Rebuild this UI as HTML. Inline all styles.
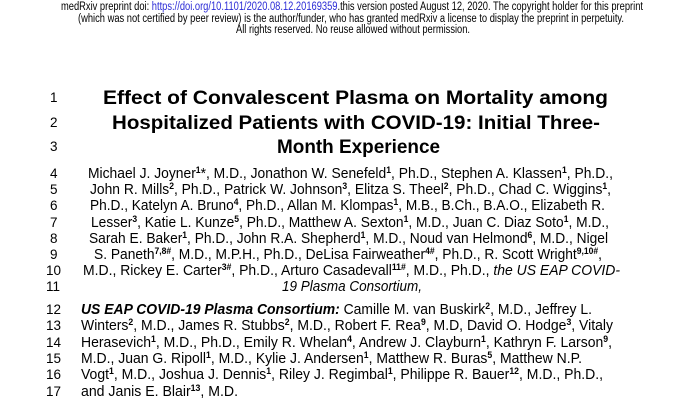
<!DOCTYPE html>
<html><head><meta charset="utf-8"><style>
html,body{margin:0;padding:0;background:#fff;width:700px;height:400px;overflow:hidden}
svg{display:block}
text{font-family:"Liberation Sans",Arial,sans-serif;fill:#000}
.n{font-size:13.5px}
.b{font-size:14.5px}
.t{font-size:19.5px;font-weight:bold}
.h{font-size:11.5px}
.s{font-size:9px;font-weight:bold}
</style></head><body>
<svg width="700" height="400" viewBox="0 0 700 400">
<text class="h" x="61" y="10" textLength="582" lengthAdjust="spacingAndGlyphs">medRxiv preprint doi: <tspan fill="#2b2bd6">https://doi.org/10.1101/2020.08.12.20169359</tspan>.this version posted August 12, 2020. The copyright holder for this preprint</text>
<text class="h" x="78" y="22" textLength="546" lengthAdjust="spacingAndGlyphs">(which was not certified by peer review) is the author/funder, who has granted medRxiv a license to display the preprint in perpetuity.</text>
<text class="h" x="236" y="33" textLength="234" lengthAdjust="spacingAndGlyphs">All rights reserved. No reuse allowed without permission.</text>

<g class="n">
<text x="50" y="102">1</text><text x="50" y="127">2</text><text x="50" y="151">3</text>
<text x="50" y="178">4</text><text x="50" y="194">5</text><text x="50" y="210">6</text><text x="50" y="227">7</text>
<text x="50" y="243">8</text><text x="50" y="259">9</text><text x="46" y="275">10</text><text x="46" y="291">11</text>
<text x="46" y="314">12</text><text x="46" y="330">13</text><text x="46" y="347">14</text><text x="46" y="363">15</text>
<text x="46" y="379">16</text><text x="46" y="396">17</text>
</g>

<text class="t" x="103" y="104" textLength="505" lengthAdjust="spacingAndGlyphs">Effect of Convalescent Plasma on Mortality among</text>
<text class="t" x="112" y="129" textLength="488" lengthAdjust="spacingAndGlyphs">Hospitalized Patients with COVID-19: Initial Three-</text>
<text class="t" x="277" y="153" textLength="163" lengthAdjust="spacingAndGlyphs">Month Experience</text>

<text class="b" x="88" y="178" textLength="525" lengthAdjust="spacingAndGlyphs">Michael J. Joyner<tspan class="s" dy="-5">1</tspan><tspan dy="5">*, M.D., Jonathon W. Senefeld</tspan><tspan class="s" dy="-5">1</tspan><tspan dy="5">, Ph.D., Stephen A. Klassen</tspan><tspan class="s" dy="-5">1</tspan><tspan dy="5">, Ph.D.,</tspan></text>
<text class="b" x="90" y="194" textLength="521" lengthAdjust="spacingAndGlyphs">John R. Mills<tspan class="s" dy="-5">2</tspan><tspan dy="5">, Ph.D., Patrick W. Johnson</tspan><tspan class="s" dy="-5">3</tspan><tspan dy="5">, Elitza S. Theel</tspan><tspan class="s" dy="-5">2</tspan><tspan dy="5">, Ph.D., Chad C. Wiggins</tspan><tspan class="s" dy="-5">1</tspan><tspan dy="5">,</tspan></text>
<text class="b" x="90" y="210" textLength="515" lengthAdjust="spacingAndGlyphs">Ph.D., Katelyn A. Bruno<tspan class="s" dy="-5">4</tspan><tspan dy="5">, Ph.D., Allan M. Klompas</tspan><tspan class="s" dy="-5">1</tspan><tspan dy="5">, M.B., B.Ch., B.A.O., Elizabeth R.</tspan></text>
<text class="b" x="91" y="227" textLength="518" lengthAdjust="spacingAndGlyphs">Lesser<tspan class="s" dy="-5">3</tspan><tspan dy="5">, Katie L. Kunze</tspan><tspan class="s" dy="-5">5</tspan><tspan dy="5">, Ph.D., Matthew A. Sexton</tspan><tspan class="s" dy="-5">1</tspan><tspan dy="5">, M.D., Juan C. Diaz Soto</tspan><tspan class="s" dy="-5">1</tspan><tspan dy="5">, M.D.,</tspan></text>
<text class="b" x="89" y="243" textLength="519" lengthAdjust="spacingAndGlyphs">Sarah E. Baker<tspan class="s" dy="-5">1</tspan><tspan dy="5">, Ph.D., John R.A. Shepherd</tspan><tspan class="s" dy="-5">1</tspan><tspan dy="5">, M.D., Noud van Helmond</tspan><tspan class="s" dy="-5">6</tspan><tspan dy="5">, M.D., Nigel</tspan></text>
<text class="b" x="94" y="259" textLength="508" lengthAdjust="spacingAndGlyphs">S. Paneth<tspan class="s" dy="-5">7,8#</tspan><tspan dy="5">, M.D., M.P.H., Ph.D., DeLisa Fairweather</tspan><tspan class="s" dy="-5">4#</tspan><tspan dy="5">, Ph.D., R. Scott Wright</tspan><tspan class="s" dy="-5">9,10#</tspan><tspan dy="5">,</tspan></text>
<text class="b" x="83" y="275" textLength="537" lengthAdjust="spacingAndGlyphs">M.D., Rickey E. Carter<tspan class="s" dy="-5">3#</tspan><tspan dy="5">, Ph.D., Arturo Casadevall</tspan><tspan class="s" dy="-5">11#</tspan><tspan dy="5">, M.D., Ph.D., </tspan><tspan font-style="italic">the US EAP COVID-</tspan></text>
<text class="b" x="282" y="291" font-style="italic" textLength="140" lengthAdjust="spacingAndGlyphs">19 Plasma Consortium,</text>

<text class="b" x="81" y="314" textLength="511" lengthAdjust="spacingAndGlyphs"><tspan font-weight="bold" font-style="italic">US EAP COVID-19 Plasma Consortium:</tspan> Camille M. van Buskirk<tspan class="s" dy="-5">2</tspan><tspan dy="5">, M.D., Jeffrey L.</tspan></text>
<text class="b" x="81" y="330" textLength="532" lengthAdjust="spacingAndGlyphs">Winters<tspan class="s" dy="-5">2</tspan><tspan dy="5">, M.D., James R. Stubbs</tspan><tspan class="s" dy="-5">2</tspan><tspan dy="5">, M.D., Robert F. Rea</tspan><tspan class="s" dy="-5">9</tspan><tspan dy="5">, M.D, David O. Hodge</tspan><tspan class="s" dy="-5">3</tspan><tspan dy="5">, Vitaly</tspan></text>
<text class="b" x="81" y="347" textLength="531" lengthAdjust="spacingAndGlyphs">Herasevich<tspan class="s" dy="-5">1</tspan><tspan dy="5">, M.D., Ph.D., Emily R. Whelan</tspan><tspan class="s" dy="-5">4</tspan><tspan dy="5">, Andrew J. Clayburn</tspan><tspan class="s" dy="-5">1</tspan><tspan dy="5">, Kathryn F. Larson</tspan><tspan class="s" dy="-5">9</tspan><tspan dy="5">,</tspan></text>
<text class="b" x="81" y="363" textLength="501" lengthAdjust="spacingAndGlyphs">M.D., Juan G. Ripoll<tspan class="s" dy="-5">1</tspan><tspan dy="5">, M.D., Kylie J. Andersen</tspan><tspan class="s" dy="-5">1</tspan><tspan dy="5">, Matthew R. Buras</tspan><tspan class="s" dy="-5">5</tspan><tspan dy="5">, Matthew N.P.</tspan></text>
<text class="b" x="81" y="379" textLength="522" lengthAdjust="spacingAndGlyphs">Vogt<tspan class="s" dy="-5">1</tspan><tspan dy="5">, M.D., Joshua J. Dennis</tspan><tspan class="s" dy="-5">1</tspan><tspan dy="5">, Riley J. Regimbal</tspan><tspan class="s" dy="-5">1</tspan><tspan dy="5">, Philippe R. Bauer</tspan><tspan class="s" dy="-5">12</tspan><tspan dy="5">, M.D., Ph.D.,</tspan></text>
<text class="b" x="81" y="396" textLength="157" lengthAdjust="spacingAndGlyphs">and Janis E. Blair<tspan class="s" dy="-5">13</tspan><tspan dy="5">, M.D.</tspan></text>
</svg>
</body></html>
